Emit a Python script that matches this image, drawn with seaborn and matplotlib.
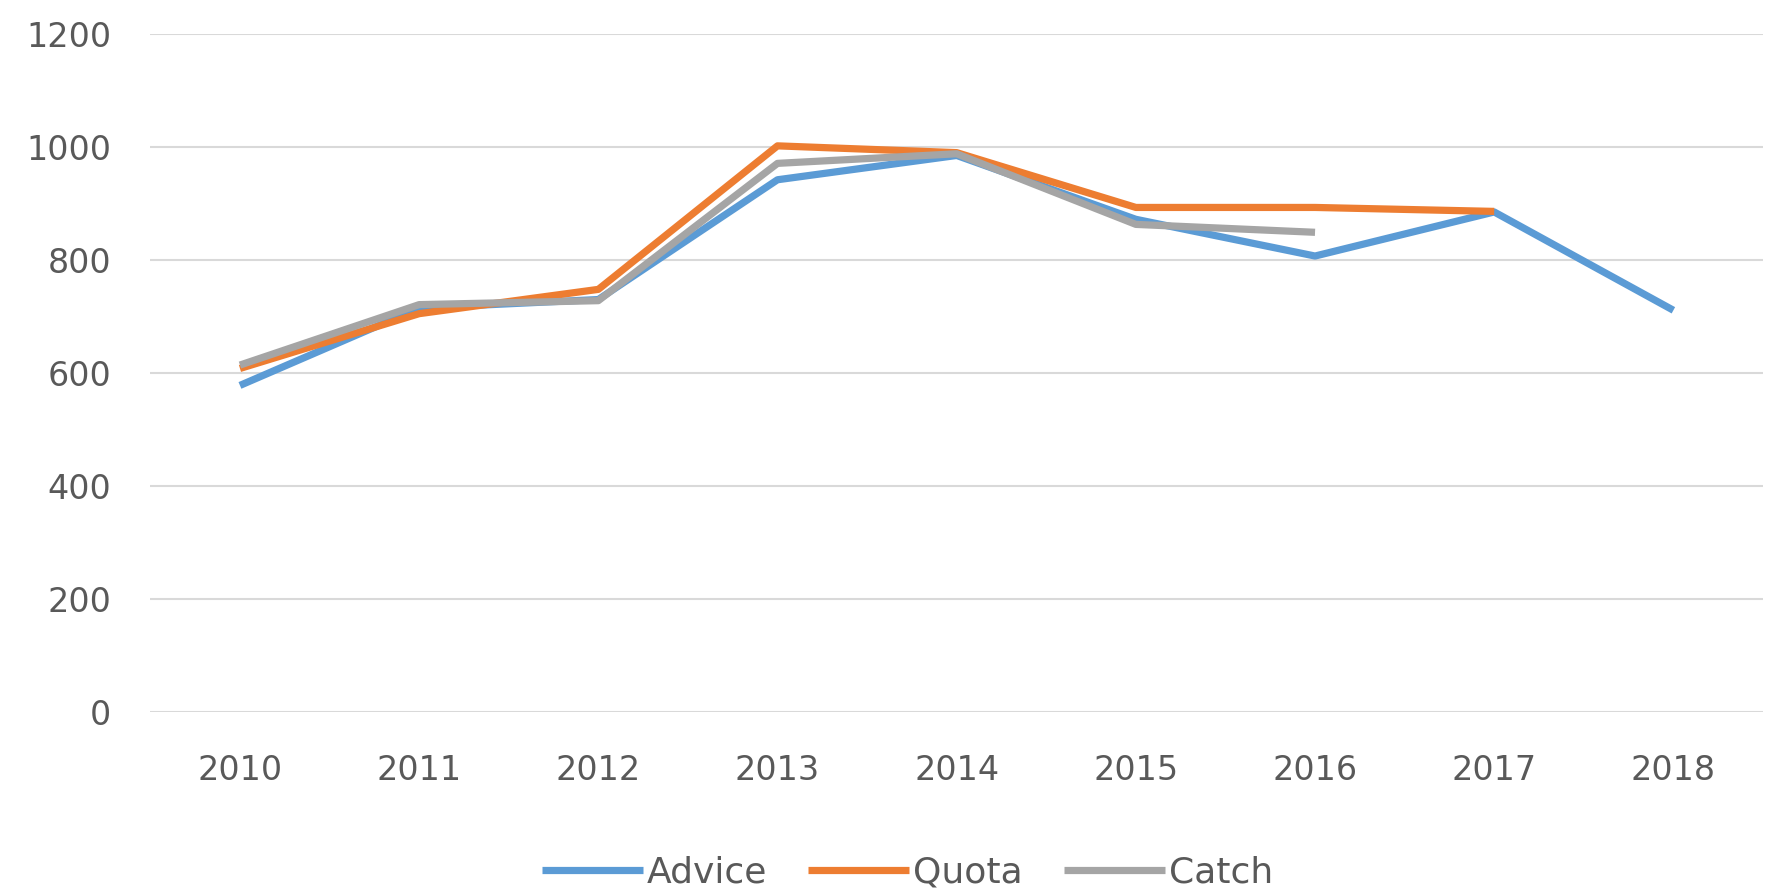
import numpy as np
import pandas as pd
import matplotlib
matplotlib.use("Agg")
import matplotlib.pyplot as plt
import seaborn as sns
from matplotlib.lines import Line2D

years = ["2010", "2011", "2012", "2013", "2014", "2015", "2016", "2017", "2018"]
advice = [578, 715, 730, 942, 985, 872, 807, 885, 711]
quota = [608, 705, 748, 1002, 990, 893, 893, 886, np.nan]
catch = [614, 721, 728, 971, 988, 863, 849, np.nan, np.nan]
series_names = ["Advice", "Quota", "Catch"]
colors = ["#5B9BD5", "#ED7D31", "#A5A5A5"]
yticks = [0, 200, 400, 600, 800, 1000, 1200]

sns.set_theme(style="white")
plt.rcParams['font.family'] = ['DejaVu Sans']

frames = []
for name, vals in zip(series_names, [advice, quota, catch]):
    frames.append(pd.DataFrame({"Year": years, "Value": vals, "Series": name}))
df = pd.concat(frames, ignore_index=True).dropna()

fig = plt.figure(figsize=(17.69, 8.92), dpi=100)
ax = fig.add_axes([0.085, 0.2018, 0.9116, 0.7601])

sns.lineplot(data=df, x="Year", y="Value", hue="Series", hue_order=series_names,
             palette=colors, linewidth=5.2, ax=ax, sort=False, legend=False)
for ln in ax.get_lines():
    ln.set_solid_capstyle("butt")
    ln.set_solid_joinstyle("round")

ax.set_xlim(-0.5, len(years) - 0.5)
ax.set_ylim(0, 1200)
ax.set_yticks(yticks)
ax.set_yticklabels([str(t) for t in yticks])
ax.yaxis.grid(True, color="#D9D9D9", linewidth=1.5)
ax.xaxis.grid(False)
ax.set_axisbelow(True)
for s in ["left", "right", "top", "bottom"]:
    ax.spines[s].set_visible(False)
ax.set_xlabel("")
ax.set_ylabel("")
ax.tick_params(axis="y", length=0, pad=28, labelsize=24, labelcolor="#595959")
ax.tick_params(axis="x", length=0, pad=30, labelsize=24, labelcolor="#595959")

handles = [Line2D([0], [0], color=c, linewidth=5.2, solid_capstyle="butt") for c in colors]
fig.legend(handles, series_names, loc="center", bbox_to_anchor=(0.513, 0.022),
           ncol=3, frameon=False, fontsize=26, handlelength=2.8,
           handletextpad=0.1, columnspacing=1.15, labelcolor="#595959")

fig.savefig("out.png", dpi=100, facecolor="white")
